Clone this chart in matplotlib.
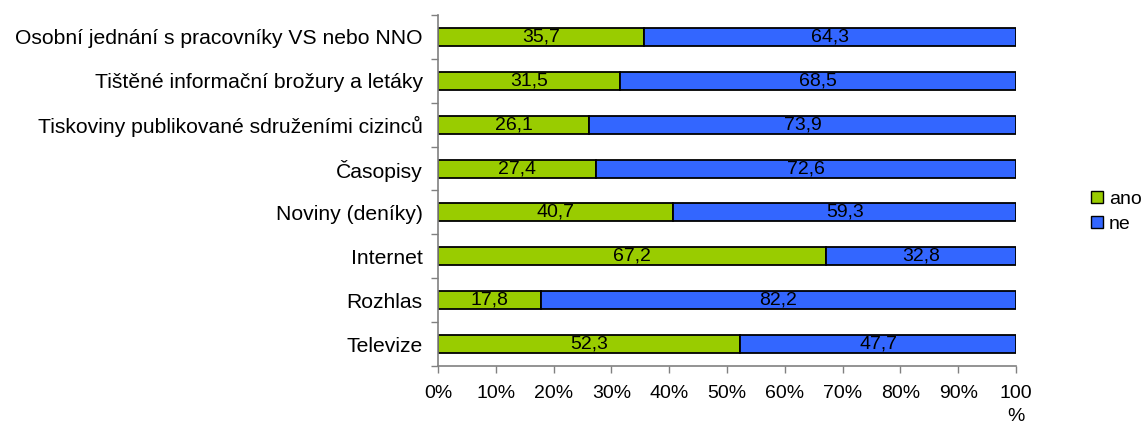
import numpy as np
import matplotlib
matplotlib.use("Agg")
import matplotlib.pyplot as plt
from matplotlib.patches import Patch

plt.rcParams["font.family"] = ["Liberation Sans", "DejaVu Sans"]

# ── Data (bottom to top) ──────────────────────────────────────────────────────
categories = ["Televize", "Rozhlas", "Internet", "Noviny (deníky)", "Časopisy",
              "Tiskoviny publikované sdruženími cizinců",
              "Tištěné informační brožury a letáky",
              "Osobní jednání s pracovníky VS nebo NNO"]
ano = [52.3, 17.8, 67.2, 40.7, 27.4, 26.1, 31.5, 35.7]
ne = [47.7, 82.2, 32.8, 59.3, 72.6, 73.9, 68.5, 64.3]
xticks = [0, 10, 20, 30, 40, 50, 60, 70, 80, 90, 100]
xticklabels = ["0%", "10%", "20%", "30%", "40%", "50%", "60%", "70%", "80%", "90%", "100\n%"]

GREEN = "#99CC00"
BLUE = "#3366FF"
FS_CAT = 15.2
FS = 14

fig = plt.figure(figsize=(11.47, 4.32), dpi=100)
ax = fig.add_axes([0.3819, 0.1528, 0.5039, 0.8125])

y = np.arange(len(categories))
h = 0.41
ax.barh(y, ano, height=h, color=GREEN, edgecolor="black", lw=1.3)
ax.barh(y, ne, left=ano, height=h, color=BLUE, edgecolor="black", lw=1.3)

fmt = lambda v: f"{v:.1f}".replace(".", ",")
for yi, a, n in zip(y, ano, ne):
    ax.text(a / 2, yi, fmt(a), ha="center", va="center", fontsize=FS)
    ax.text(a + n / 2, yi, fmt(n), ha="center", va="center", fontsize=FS)

ax.set_xlim(0, 100)
ax.set_ylim(-0.5, len(categories) - 0.5)
ax.set_xticks(xticks)
ax.set_xticklabels(xticklabels, fontsize=FS, va="top", linespacing=1.45)
ax.tick_params(axis="x", length=5, width=1, color="#808080", pad=9)

# category boundaries get the tick marks, labels sit at bar centres
ax.set_yticks(np.arange(-0.5, len(categories), 1.0))
ax.set_yticklabels([])
ax.set_yticks(y, minor=True)
ax.set_yticklabels(categories, minor=True, fontsize=FS_CAT)
ax.tick_params(axis="y", which="major", length=5, width=1, color="#808080")
ax.tick_params(axis="y", which="minor", length=0, pad=11)

for s in ("top", "right"):
    ax.spines[s].set_visible(False)
for s in ("left", "bottom"):
    ax.spines[s].set_color("#808080")
    ax.spines[s].set_linewidth(1.2)

handles = [Patch(facecolor=GREEN, edgecolor="black", label="ano"),
           Patch(facecolor=BLUE, edgecolor="black", label="ne")]
fig.legend(handles=handles, loc="center left", bbox_to_anchor=(0.943, 0.51),
           frameon=False, fontsize=FS, handlelength=0.6, handleheight=0.6,
           handletextpad=0.3, labelspacing=0.4, borderpad=0)

fig.savefig("out.png", dpi=100)
